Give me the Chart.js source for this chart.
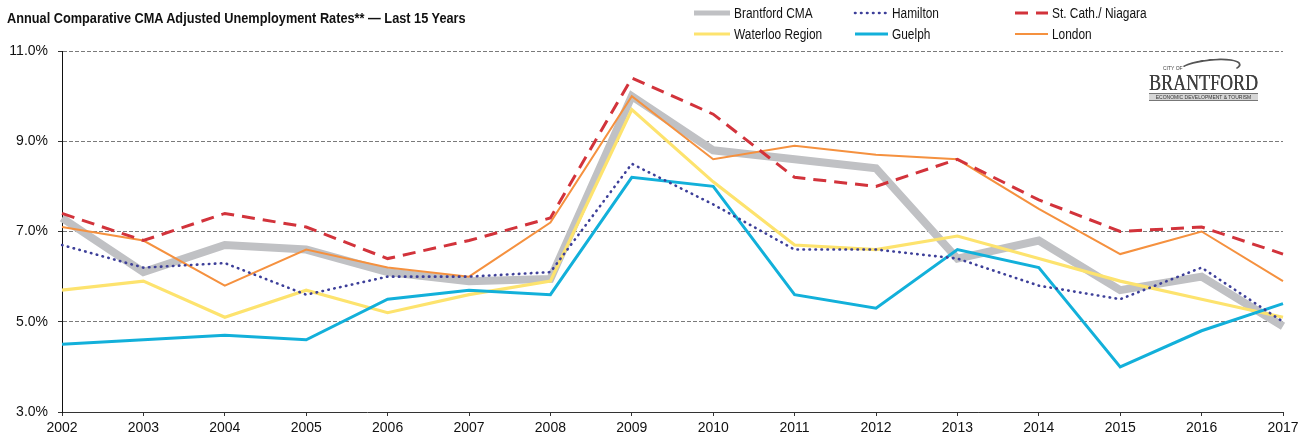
<!DOCTYPE html>
<html>
<head>
<meta charset="utf-8">
<script src="https://cdn.jsdelivr.net/npm/chart.js@4.4.0/dist/chart.umd.min.js"></script>
<style>
  html, body { margin: 0; padding: 0; background: #fff; }
  #wrap { position: relative; width: 1307px; height: 439px; }
  #titulo { position: absolute; left: 7px; top: 9px; font: bold 15px "Liberation Sans", Arial, sans-serif; color: #111; white-space: nowrap; transform: scaleX(0.85); transform-origin: left top; }
  #logo { position: absolute; left: 1149px; top: 58px; width: 110px; height: 44px; color: #555; }
  #logo .ciudad { position: absolute; left: 14px; top: 7px; font: 5px "Liberation Sans", Arial, sans-serif; color: #444; }
  #logo .arco { position: absolute; left: 30px; top: 1px; width: 58px; height: 13px; border: 2px solid #555; border-radius: 50%; border-bottom-color: transparent; border-left-color: transparent; transform: rotate(-6deg); }
  #logo .nombre { position: absolute; left: 0px; top: 12px; font: 24px "Liberation Serif", "DejaVu Serif", serif; color: #404040; white-space: nowrap; transform: scaleX(0.75); transform-origin: left top; line-height: 24px; text-shadow: 0.4px 0 0 #404040; }
  #logo .barra { position: absolute; left: 0; top: 35px; width: 109px; height: 6px; border-top: 1px solid #777; border-bottom: 1px solid #777; background: #d6d6d6; font: 5px "Liberation Sans", Arial, sans-serif; color: #333; line-height: 6px; text-align: center; white-space: nowrap; overflow: hidden; }
</style>
</head>
<body>
<div id="wrap">
  <canvas id="graficoDesempleo" width="1307" height="439"></canvas>
  <div id="titulo">Annual Comparative CMA Adjusted Unemployment Rates** &#8212; Last 15 Years</div>
  <div id="logo">
    <div class="arco"></div>
    <div class="ciudad">CITY OF</div>
    <div class="nombre">BRANTFORD</div>
    <div class="barra">ECONOMIC DEVELOPMENT &amp; TOURISM</div>
  </div>
</div>
<script>
const anios = ['2002', '2003', '2004', '2005', '2006', '2007', '2008', '2009', '2010', '2011', '2012', '2013', '2014', '2015', '2016', '2017'];

const brantford = [7.3, 6.1, 6.7, 6.6, 6.1, 5.9, 5.95, 10.0, 8.8, 8.6, 8.4, 6.4, 6.8, 5.7, 6.0, 4.9];
const hamilton  = [6.7, 6.2, 6.3, 5.6, 6.0, 6.0, 6.1, 8.5, 7.6, 6.6, 6.6, 6.4, 5.8, 5.5, 6.2, 5.0];
const niagara   = [7.4, 6.8, 7.4, 7.1, 6.4, 6.8, 7.3, 10.4, 9.6, 8.2, 8.0, 8.6, 7.7, 7.0, 7.1, 6.5];
const waterloo  = [5.7, 5.9, 5.1, 5.7, 5.2, 5.6, 5.9, 9.7, 8.1, 6.7, 6.6, 6.9, 6.4, 5.9, 5.5, 5.1];
const guelph    = [4.5, 4.6, 4.7, 4.6, 5.5, 5.7, 5.6, 8.2, 8.0, 5.6, 5.3, 6.6, 6.2, 4.0, 4.8, 5.4];
const london    = [7.1, 6.8, 5.8, 6.6, 6.2, 6.0, 7.2, 10.0, 8.6, 8.9, 8.7, 8.6, 7.5, 6.5, 7.0, 5.9];

const ticksY = [3, 5, 7, 9, 11];

const fuente = '"Liberation Sans", Arial, sans-serif';

// serie: etiqueta, datos, color, grosor, guiones, orden de dibujo
function serie(label, data, color, ancho, dash, orden) {
  return {
    label, data,
    borderColor: color,
    backgroundColor: color,
    borderWidth: ancho,
    borderDash: dash,
    borderCapStyle: dash.length && dash[0] <= 2 ? 'round' : 'butt',
    borderJoinStyle: 'miter',
    pointRadius: 0,
    tension: 0,
    fill: false,
    order: orden
  };
}

const datasets = [
  serie('Brantford CMA', brantford, '#c0c1c4', 8, [], 6),
  serie('Hamilton', hamilton, '#3d3f99', 2.6, [0.5, 5.5], 2),
  serie('St. Cath./ Niagara', niagara, '#d2333b', 3, [13, 8], 1),
  serie('Waterloo Region', waterloo, '#fde36e', 3.2, [], 5),
  serie('Guelph', guelph, '#12b0da', 3, [], 4),
  serie('London', london, '#f5913f', 2, [], 3)
];

// leyenda en 3 columnas x 2 filas, dibujada a mano
const leyendaPos = [
  { x: 694, y: 13, largo: 36 },
  { x: 855, y: 13, largo: 33 },
  { x: 1015, y: 13, largo: 33 },
  { x: 694, y: 34, largo: 36 },
  { x: 855, y: 34, largo: 33 },
  { x: 1015, y: 34, largo: 33 }
];

const pluginLeyenda = {
  id: 'leyenda',
  afterDraw(chart) {
    const c = chart.ctx;
    chart.data.datasets.forEach((ds, i) => {
      const p = leyendaPos[i];
      c.save();
      c.strokeStyle = ds.borderColor;
      c.lineWidth = i === 0 ? 5 : ds.borderWidth;
      c.setLineDash(ds.borderDash || []);
      c.lineCap = ds.borderCapStyle;
      c.beginPath();
      c.moveTo(p.x, p.y);
      c.lineTo(p.x + p.largo, p.y);
      c.stroke();
      c.setLineDash([]);
      c.fillStyle = '#111';
      c.font = '14px ' + fuente;
      c.textBaseline = 'middle';
      c.translate(p.x + p.largo + 4, p.y + 1);
      c.scale(0.85, 1);
      c.fillText(ds.label, 0, 0);
      c.restore();
    });
  }
};

new Chart(document.getElementById('graficoDesempleo'), {
  type: 'line',
  data: { labels: anios, datasets },
  options: {
    responsive: false,
    animation: false,
    layout: { padding: { top: 51, right: 24, left: 0, bottom: 0 } },
    plugins: {
      legend: { display: false },
      tooltip: { enabled: false }
    },
    scales: {
      x: {
        offset: false,
        afterFit(s) { s.height = 27; },
        border: { display: true, color: '#333', width: 1 },
        grid: { display: true, drawOnChartArea: false, drawTicks: true, tickLength: 4, color: '#333' },
        ticks: { color: '#111', font: { family: fuente, size: 14 }, padding: 4, maxRotation: 0, autoSkip: false }
      },
      y: {
        min: 3,
        max: 11,
        afterFit(s) { s.width = 62; },
        afterBuildTicks(s) { s.ticks = ticksY.map(v => ({ value: v })); },
        border: { display: true, color: '#111', width: 1, dash: [4, 2] },
        grid: {
          color: '#7a7a7a',
          lineWidth: 1,
          tickLength: 4,
          tickColor: '#333',
          tickBorderDash: []
        },
        ticks: {
          color: '#111',
          font: { family: fuente, size: 14 },
          padding: 10,
          callback: v => v.toFixed(1) + '%'
        }
      }
    }
  },
  plugins: [pluginLeyenda]
});
</script>
</body>
</html>
